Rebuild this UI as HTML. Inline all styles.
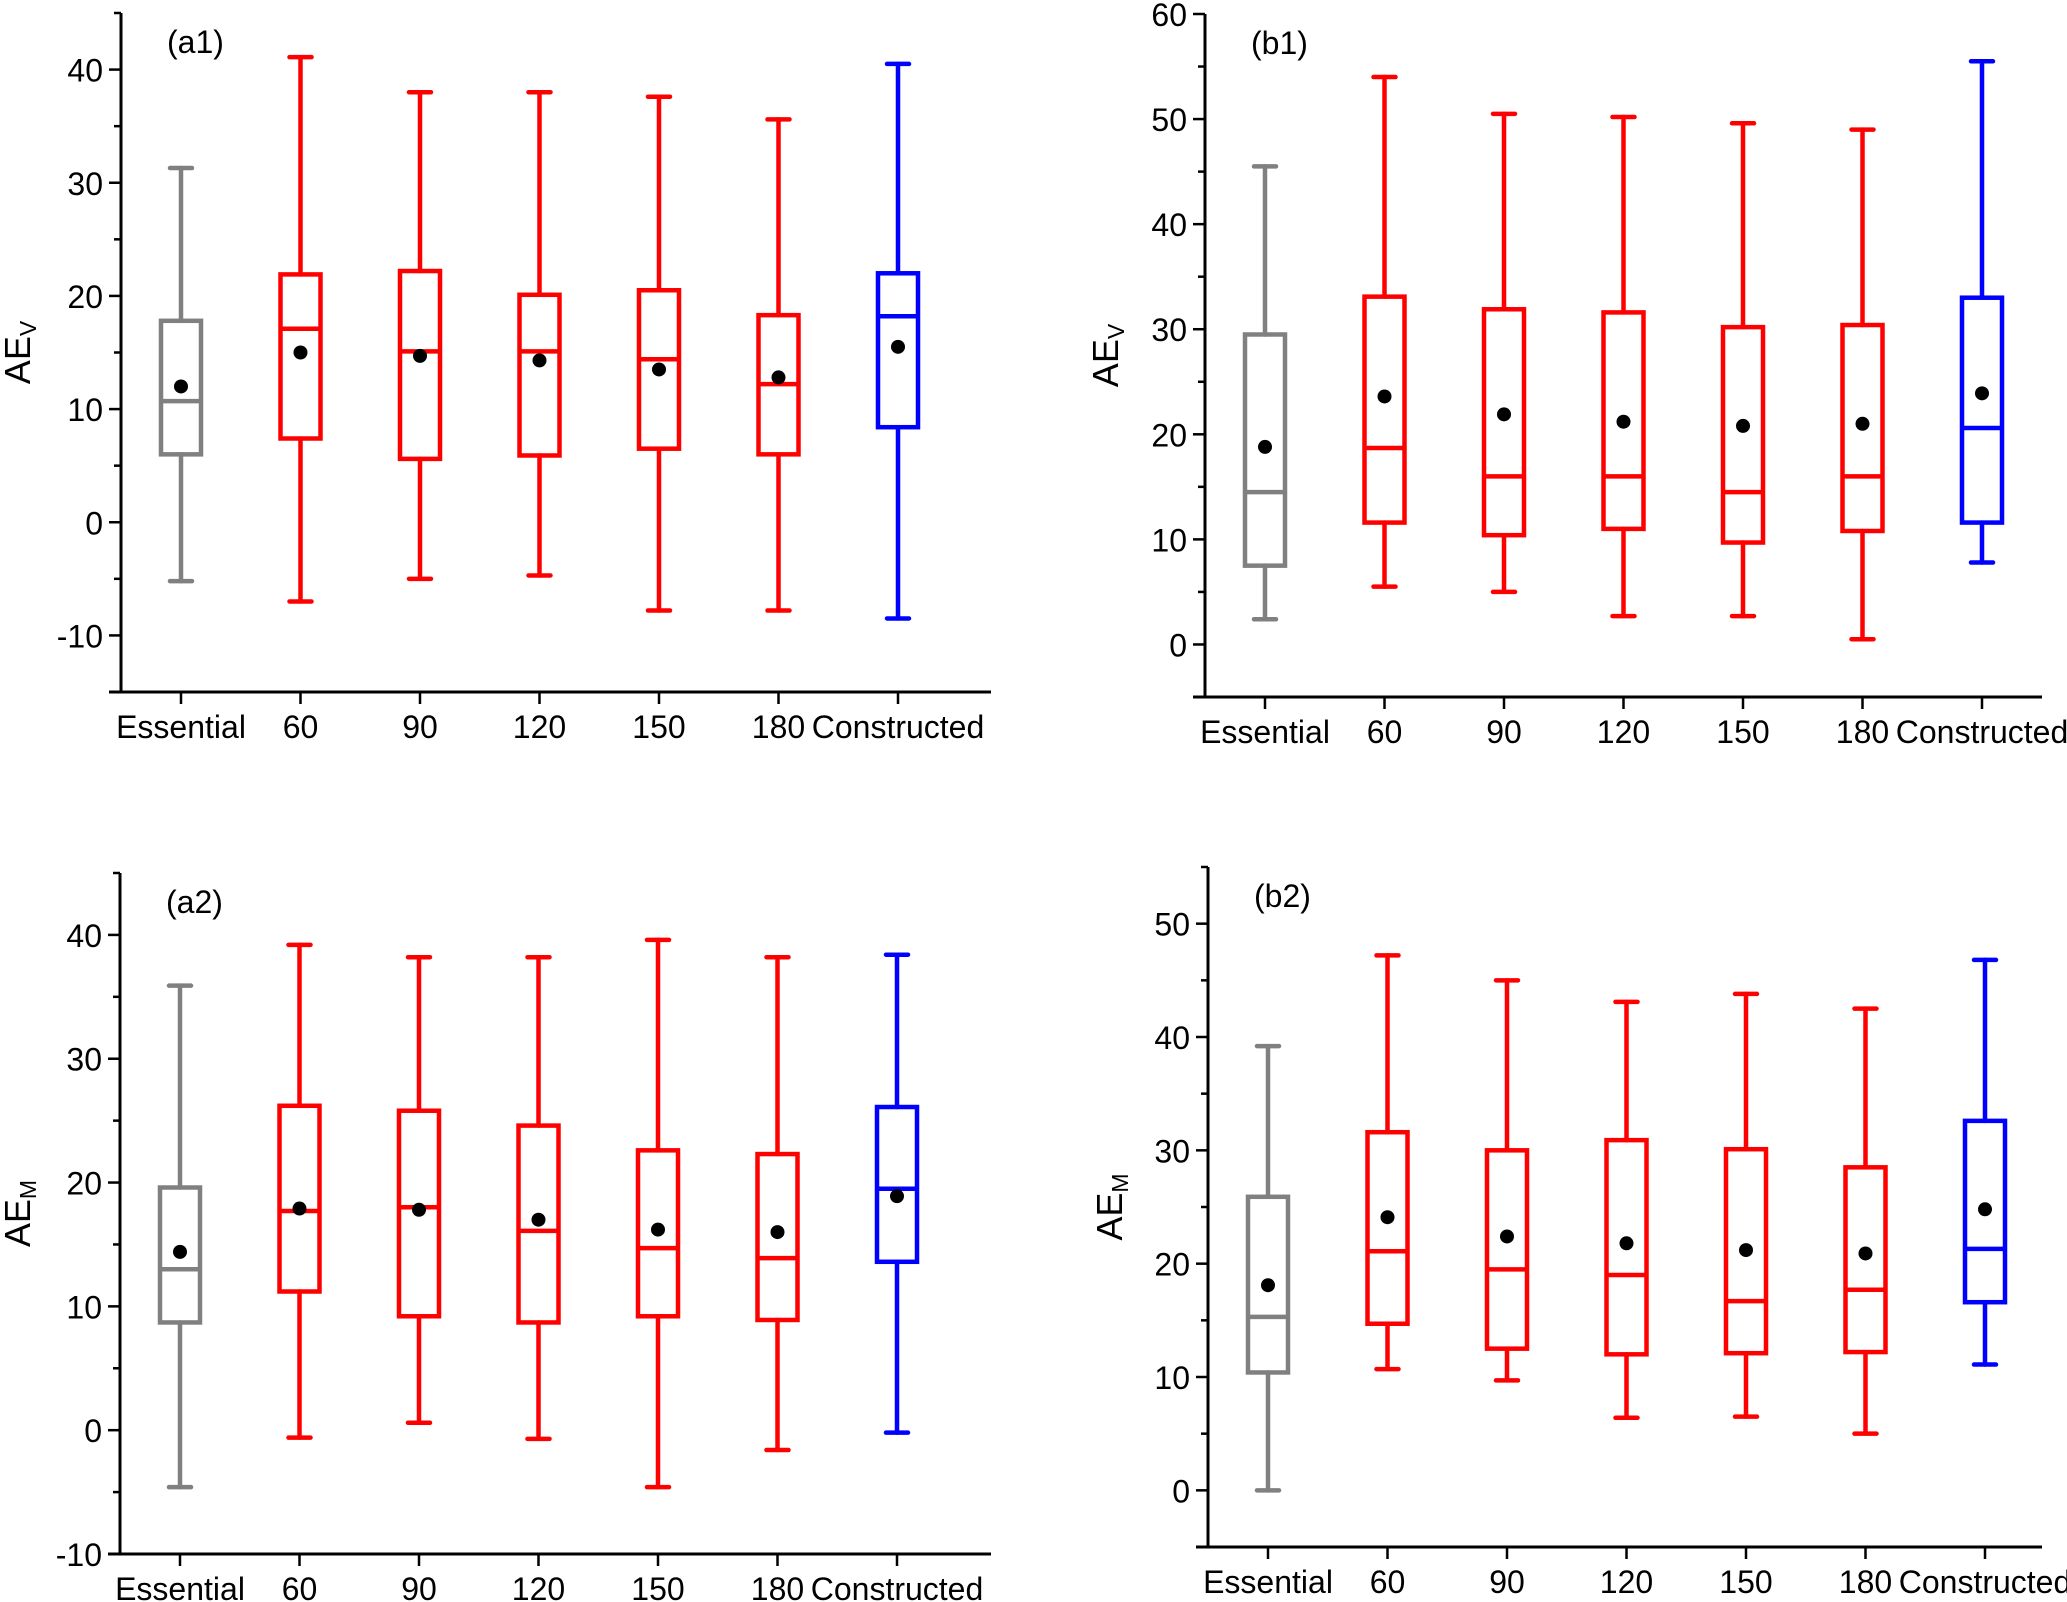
<!DOCTYPE html>
<html><head><meta charset="utf-8"><style>
html,body{margin:0;padding:0;background:#fff;}
svg{display:block;font-family:"Liberation Sans",Arial,sans-serif;}
</style></head><body>
<svg id="chart" width="2067" height="1602" viewBox="0 0 2067 1602" xmlns="http://www.w3.org/2000/svg"></svg>
<script>
const categories = ["Essential","60","90","120","150","180","Constructed"];
const colors = ["#808080","#ff0000","#ff0000","#ff0000","#ff0000","#ff0000","#0000ff"];
// [min, q1, median, q3, max, mean]
const a1Stats = [[-5.2,6,10.7,17.8,31.3,12],[-7,7.4,17.1,21.9,41.1,15],[-5,5.6,15.1,22.2,38,14.7],[-4.7,5.9,15.1,20.1,38,14.3],[-7.8,6.5,14.4,20.5,37.6,13.5],[-7.8,6,12.2,18.3,35.6,12.8],[-8.5,8.4,18.2,22,40.5,15.5]];
const b1Stats = [[2.4,7.5,14.5,29.5,45.5,18.8],[5.5,11.6,18.7,33.1,54,23.6],[5,10.4,16,31.9,50.5,21.9],[2.7,11,16,31.6,50.2,21.2],[2.7,9.7,14.5,30.2,49.6,20.8],[0.5,10.8,16,30.4,49,21],[7.8,11.6,20.6,33,55.5,23.9]];
const a2Stats = [[-4.6,8.7,13,19.6,35.9,14.4],[-0.6,11.2,17.7,26.2,39.2,17.9],[0.6,9.2,18,25.8,38.2,17.8],[-0.7,8.7,16.1,24.6,38.2,17],[-4.6,9.2,14.7,22.6,39.6,16.2],[-1.6,8.9,13.9,22.3,38.2,16],[-0.2,13.6,19.5,26.1,38.4,18.9]];
const b2Stats = [[0,10.4,15.3,25.9,39.2,18.1],[10.7,14.7,21.1,31.6,47.2,24.1],[9.7,12.5,19.5,30,45,22.4],[6.4,12,19,30.9,43.1,21.8],[6.5,12.1,16.7,30.1,43.8,21.2],[5,12.2,17.7,28.5,42.5,20.9],[11.1,16.6,21.3,32.6,46.8,24.8]];
const a1Ticks = [-10,0,10,20,30,40];
const b1Ticks = [0,10,20,30,40,50,60];
const a2Ticks = [-10,0,10,20,30,40];
const b2Ticks = [0,10,20,30,40,50];

const NS="http://www.w3.org/2000/svg";
const svg=document.getElementById('chart');
function mk(tag,attrs,parent){const e=document.createElementNS(NS,tag);for(const k in attrs)e.setAttribute(k,attrs[k]);(parent||svg).appendChild(e);return e;}

function panel(id,cfg,stats,ticks){
  const g=mk('g',{});
  
  
  const y=v=>cfg.bottom-(v-cfg.ymin)/(cfg.ymax-cfg.ymin)*(cfg.bottom-cfg.top);
  const x=i=>cfg.x0+i*cfg.dx;
  const ya=mk('line',{x1:cfg.left,y1:cfg.top,x2:cfg.left,y2:cfg.bottom,stroke:'#000','stroke-width':3},g);
  
  
  const xa=mk('line',{x1:cfg.left-12,y1:cfg.bottom,x2:cfg.right,y2:cfg.bottom,stroke:'#000','stroke-width':3},g);
  
  
  for(let v=cfg.ymin;v<=cfg.ymax+0.01;v+=5){
    const major=ticks.indexOf(v)>=0;
    mk('line',{x1:cfg.left-(major?12:7),y1:y(v),x2:cfg.left,y2:y(v),stroke:'#000','stroke-width':2.5},g);
  }
  ticks.forEach(t=>{
    const tx=mk('text',{x:cfg.left-18,y:y(t)+12,'text-anchor':'end','font-size':32,fill:'#000'},g);
    tx.textContent=t;
    
    
  });
  categories.forEach((c,i)=>{
    mk('line',{x1:x(i),y1:cfg.bottom,x2:x(i),y2:cfg.bottom+12,stroke:'#000','stroke-width':2.5},g);
    const tx=mk('text',{x:x(i),y:cfg.bottom+46,'text-anchor':'middle','font-size':32,fill:'#000'},g);
    tx.textContent=c;
    
    
  });
  const yt=mk('text',{transform:`translate(${cfg.titleX},${(cfg.top+cfg.bottom)/2}) rotate(-90)`,'text-anchor':'middle','font-size':36,fill:'#000'},g);
  yt.innerHTML='AE<tspan font-size="23" dy="6">'+cfg.sub+'</tspan>';
  
  
  const pl=mk('text',{x:cfg.left+46,y:cfg.top+40,'font-size':32,fill:'#000'},g);
  pl.textContent='('+id+')';
  
  
  stats.forEach((s,i)=>{
    const bg=mk('g',{stroke:colors[i],'stroke-width':4.5,fill:'none','stroke-linecap':'round'},g);
    
    
    const cx=x(i),bw=20,cw=11;
    mk('line',{x1:cx,y1:y(s[0]),x2:cx,y2:y(s[1])},bg);
    mk('line',{x1:cx,y1:y(s[3]),x2:cx,y2:y(s[4])},bg);
    mk('line',{x1:cx-cw,y1:y(s[0]),x2:cx+cw,y2:y(s[0])},bg);
    mk('line',{x1:cx-cw,y1:y(s[4]),x2:cx+cw,y2:y(s[4])},bg);
    mk('rect',{x:cx-bw,y:y(s[3]),width:2*bw,height:y(s[1])-y(s[3]),'stroke-linecap':'butt'},bg);
    mk('line',{x1:cx-bw,y1:y(s[2]),x2:cx+bw,y2:y(s[2]),'stroke-linecap':'butt'},bg);
    const m=mk('circle',{cx:cx,cy:y(s[5]),r:7,fill:'#000',stroke:'none'},bg);
    
    
  });
}
panel('a1',{left:121,right:991,top:13,bottom:692,ymin:-15,ymax:45,x0:181,dx:119.5,titleX:30,sub:'V'},a1Stats,a1Ticks);
panel('b1',{left:1205,right:2042,top:14,bottom:697,ymin:-5,ymax:60,x0:1265,dx:119.5,titleX:1118,sub:'V'},b1Stats,b1Ticks);
panel('a2',{left:120,right:991,top:873,bottom:1554,ymin:-10,ymax:45,x0:180,dx:119.5,titleX:30,sub:'M'},a2Stats,a2Ticks);
panel('b2',{left:1208,right:2042,top:867,bottom:1547,ymin:-5,ymax:55,x0:1268,dx:119.5,titleX:1122,sub:'M'},b2Stats,b2Ticks);
</script>
</body></html>
